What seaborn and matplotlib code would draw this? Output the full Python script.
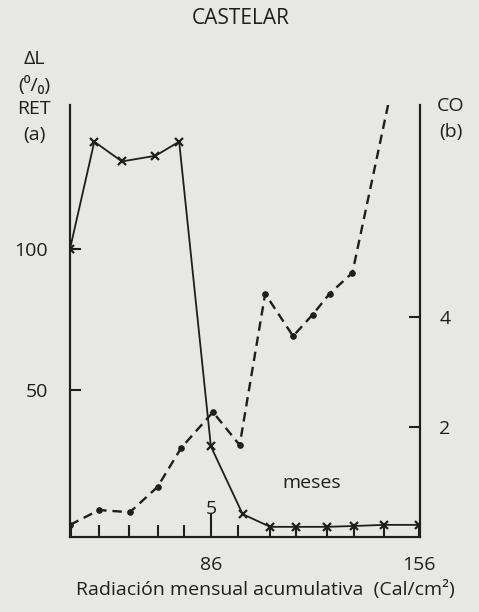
import matplotlib
matplotlib.use("Agg")
import matplotlib.pyplot as plt
import seaborn as sns
import numpy as np

# ---- data ----
ret_x = [38.5, 46.7, 56.0, 67.3, 75.3, 86.0, 96.7, 106.0, 114.7, 125.0, 134.3, 144.3, 156.0]
ret_y = [100, 138, 131, 133, 138, 30, 6, 1.5, 1.5, 1.5, 1.8, 2.2, 2.2]

co_x = [38.5, 48.3, 58.7, 68.0, 76.0, 86.7, 95.7, 104.3, 113.7, 120.3, 126.0, 133.7, 148.3]
co_y = [0.22, 0.49, 0.45, 0.91, 1.62, 2.27, 1.67, 4.42, 3.65, 4.04, 4.42, 4.80, 8.5]

month_ticks = [38.7, 48.3, 58.3, 68.0, 77.0, 86.0, 95.3, 106.0, 114.7, 125.0, 134.3, 144.3, 156.0]
xtick_labels = {86.0: "86", 156.0: "156"}
left_ticks = [50, 100]
right_ticks = [2, 4]

bg = "#e7e7e5"
ink = "#1e1e1e"
fs = 14

sns.set_theme(style="white")
plt.rcParams['font.family'] = ['Open Sans', 'DejaVu Sans']

fig = plt.figure(figsize=(4.79, 6.12), dpi=100, facecolor=bg)
ax = fig.add_axes([70/479, 1-537/612, (420-70)/479, (537-105)/612])
ax.set_facecolor(bg)
ax.patch.set_alpha(0)

sns.lineplot(x=ret_x, y=ret_y, ax=ax, color=ink, linewidth=1.3, marker='x',
             markersize=6, markeredgewidth=1.6, markeredgecolor=ink, sort=False)

ax2 = ax.twinx()
sns.lineplot(x=co_x, y=co_y, ax=ax2, color=ink, linewidth=1.7, linestyle=(0, (4, 2.5)),
             marker='o', markersize=4, markeredgecolor=ink, sort=False, clip_on=True)

ax.set_xlim(38.5, 156.5)
ax.set_ylim(-2.1, 151)
ax2.set_ylim(0, 7.85)

for a in (ax, ax2):
    a.spines['top'].set_visible(False)
    for s in a.spines.values():
        s.set_color(ink)
        s.set_linewidth(1.5)
    a.grid(False)

ax.set_xticks(month_ticks)
ax.set_xticklabels([xtick_labels.get(t, "") for t in month_ticks], fontsize=fs, color=ink)
ax.tick_params(axis='x', bottom=True, direction='in', length=9, width=1.5, color=ink, pad=14)
# longer tick at 86
ax.xaxis.get_major_ticks()[5].tick1line.set_markersize(17)

ax.set_yticks(left_ticks)
ax.set_yticklabels([str(t) for t in left_ticks], fontsize=fs, color=ink)
ax.tick_params(axis='y', left=True, direction='in', length=8, width=1.5, color=ink, pad=16)

ax2.set_yticks(right_ticks)
ax2.set_yticklabels([str(t) for t in right_ticks], fontsize=fs, color=ink)
ax2.tick_params(axis='y', right=True, direction='in', length=8, width=1.5, color=ink, pad=14)

fig.text(265/479, 1-590/612, "Radiación mensual acumulativa  (Cal/cm²)",
         ha='center', va='center', fontsize=fs, color=ink)

fig.text(241/479, 1-18/612, "CASTELAR", ha='center', va='center', fontsize=15, color=ink)
fig.text(34/479, 1-59/612, "ΔL", ha='center', va='center', fontsize=fs, color=ink)
fig.text(34/479, 1-86/612, "(⁰/₀)", ha='center', va='center', fontsize=fs, color=ink)
fig.text(34/479, 1-109/612, "RET", ha='center', va='center', fontsize=fs, color=ink)
fig.text(34/479, 1-135/612, "(a)", ha='center', va='center', fontsize=fs, color=ink)
fig.text(451/479, 1-106/612, "CO", ha='center', va='center', fontsize=fs, color=ink)
fig.text(451/479, 1-132/612, "(b)", ha='center', va='center', fontsize=fs, color=ink)
ax.text(86.0, 8.0, "5", ha='center', va='center', fontsize=fs, color=ink)
ax.text(120, 17, "meses", ha='center', va='center', fontsize=fs, color=ink)

fig.savefig("out.png", dpi=100, facecolor=bg)
